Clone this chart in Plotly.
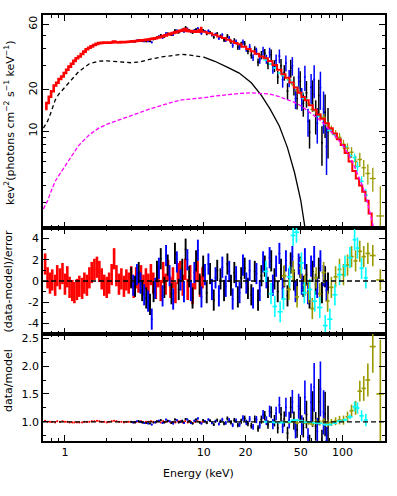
import math
import plotly.graph_objects as go

# ---------------- data ----------------
# model components (E^2 F units)
mod_E = [0.7, 0.75, 0.8, 0.85, 0.9, 1.0, 1.1, 1.25, 1.5, 1.75, 2.0, 2.5, 3.0, 3.5, 4.0,
         5.0, 6.0, 7.0, 8.0, 9.0, 10.0, 12.0, 15.0, 18.0, 22.0, 26.0, 30.0, 35.0, 40.0, 45.0,
         50.0, 55.0, 60.0, 66.0, 72.0, 80.0, 90.0, 100.0, 110.0, 120.0, 130.0, 140.0, 150.0, 160.0, 170.0]
comp_bb = [10.5, 11.8, 14.0, 16.8, 18.5, 21.0, 23.5, 27.0, 31.0, 32.4, 32.5, 31.8, 31.5, 32.0, 33.2,
           34.8, 35.8, 36.3, 35.8, 35.2, 34.6, 32.3, 29.0, 26.5, 22.5, 18.2, 14.5, 10.9, 7.6, 5.0,
           3.1, 1.8, 1.0, 0.5]
comp_pl = [2.7, 3.1, 3.7, 4.3, 4.7, 5.5, 6.4, 7.8, 9.4, 10.5, 11.2, 12.2, 13.0, 13.7, 14.4,
           15.5, 16.3, 16.9, 17.1, 17.3, 17.5, 18.0, 18.5, 18.8, 19.0, 18.9, 18.6, 17.8, 17.0, 16.2,
           15.3, 14.3, 13.4, 12.4, 11.5, 10.3, 9.0, 7.9, 6.8, 5.7, 4.7, 3.9, 3.1, 2.4, 1.85]
bb_dash_end = 10.0

# total model (red step curve)
tot_E = [8, 9, 10, 11, 12, 13, 14, 15, 16, 17, 18, 19.5, 21, 22.5, 24, 26, 28, 30, 32.5, 35,
         37.5, 40, 43, 46, 49, 52, 55, 59, 63, 67, 72, 77, 82, 88, 94, 100, 107, 114, 121, 128,
         135, 142, 150, 158, 166, 174]
tot_val = [53.8, 53.3, 53.0, 51.8, 50.5, 49.0, 47.7, 46.4, 45.1, 44.0, 43.0, 41.3, 39.7, 38.2, 36.7,
           35.0, 34.0, 32.5, 30.3, 28.0, 26.0, 24.5, 22.6, 20.8, 19.0, 17.7, 16.8, 15.4, 14.3, 13.2,
           12.3, 11.4, 10.5, 9.6, 8.7, 7.9, 6.9, 6.0, 5.1, 4.5, 4.0, 3.6, 3.1, 2.5, 1.95, 1.55]

# red (soft X-ray) data
red_E = [0.72, 0.75, 0.78, 0.81, 0.85, 0.88, 0.92, 0.96, 1.00, 1.04, 1.08, 1.13, 1.17, 1.22, 1.27,
         1.33, 1.38, 1.44, 1.50, 1.56, 1.63, 1.70, 1.77, 1.84, 1.92, 2.00, 2.08, 2.17, 2.26, 2.35,
         2.45, 2.55, 2.66, 2.77, 2.88, 3.00, 3.13, 3.26, 3.39, 3.53, 3.68, 3.83, 3.99, 4.16, 4.33,
         4.51, 4.70, 4.90, 5.10, 5.31, 5.53, 5.76, 6.00, 6.25, 6.51, 6.78, 7.06, 7.35, 7.66, 7.98,
         8.31, 8.66, 9.02, 9.40, 9.79]
red_flux = [14.5, 16.0, 17.8, 19.5, 21.5, 22.5, 24.0, 25.0, 26.5, 28.0, 29.5, 31.0, 32.5, 34.0, 35.0,
            36.5, 38.0, 39.5, 40.5, 41.5, 42.5, 43.3, 43.8, 44.0, 44.2, 44.3, 44.2, 44.3, 45.0, 44.5,
            44.4, 44.6, 44.5, 44.7, 44.8, 45.0, 45.1, 45.4, 45.6, 45.9, 46.0, 46.3, 46.6, 47.0, 47.3,
            47.6, 48.2, 48.6, 49.4, 49.9, 50.7, 51.2, 51.9, 52.5, 53.3, 54.0, 54.3, 55.5, 53.8, 53.6,
            53.3, 53.2, 53.3, 54.5, 56.5]
red_chi = [1.6, 0.3, -0.2, 0.1, -0.4, 0.5, 0.2, 0.7, -0.3, 0.4, -0.6, -0.9, -1.1, -0.8, -0.5,
           -0.7, -0.2, -0.4, 0.3, 0.8, 1.1, 1.3, 0.9, 0.2, -0.4, -0.6, -0.2, 0.6, 2.1, 0.5,
           -0.3, 0.2, -0.5, 0.1, -0.2, 0.4, -0.6, 0.3, -0.1, 0.5, -0.4, 0.2, -0.3, 0.6, -0.2,
           -0.7, 0.4, -0.9, 0.8, -0.3, 1.0, -0.6, 0.3, -1.1, 0.7, 0.9, -0.4, 1.1, -0.8, 0.5,
           -1.2, 0.2, 0.9, -0.5, 0.3]
red_ratio = [1.02, 1.00, 1.00, 1.00, 0.99, 1.01, 1.00, 1.01, 1.00, 1.00, 0.99, 0.99, 0.99, 0.99, 0.99,
             0.99, 1.00, 1.00, 1.00, 1.01, 1.01, 1.02, 1.01, 1.00, 1.00, 0.99, 1.00, 1.01, 1.02, 1.01,
             1.00, 1.00, 0.99, 1.00, 1.00, 1.00, 0.99, 1.00, 1.00, 1.01, 0.99, 1.00, 1.00, 1.01, 1.00,
             0.99, 1.01, 0.99, 1.01, 1.00, 1.01, 0.99, 1.00, 0.99, 1.01, 1.01, 0.99, 1.01, 0.99, 1.01,
             0.98, 1.00, 1.01, 0.99, 1.00]
red_relerr = 0.012

# NuSTAR-like, black (FPMA)
nuA_E = [3.0, 3.2, 3.4, 3.6, 3.85, 4.1, 4.35, 4.6, 4.9, 5.2, 5.5, 5.85, 6.2, 6.6, 7.0, 7.4, 7.85,
         8.3, 8.8, 9.35, 9.9, 10.5, 11.1, 11.8, 12.5, 13.2, 14.0, 14.8, 15.7, 16.6, 17.6, 18.6,
         19.7, 20.8, 22.0, 23.3, 24.6, 26.0, 27.5, 29.0, 30.6, 32.3, 34.1, 36.0, 38.0, 40.1, 42.3,
         44.6, 47.0, 49.5, 52.1, 54.9, 57.8, 60.8, 64.0, 67.4, 71.0, 74.8, 78.5]
nuA_flux = [45.2, 45.0, 46.1, 45.3, 45.2, 45.2, 46.7, 48.4, 50.2, 48.9,
            51.5, 50.2, 54.4, 52.4, 55.0, 57.1, 54.3, 52.1, 55.3, 52.9,
            54.5, 51.1, 52.5, 48.4, 51.4, 49.3, 46.1, 49.3, 44.9, 45.8,
            40.8, 42.9, 43.3, 38.3, 35.7, 39.3, 31.8, 35.9, 37.0, 30.7,
            36.1, 29.9, 24.8, 30.0, 26.8, 19.6, 28.8, 21.6, 17.3, 23.1,
            15.9, 19.0, 9.8, 18.6, 13.1, 18.2, 8.2, 13.7, 10.5]
nuA_chi = [0.3, -0.5, 0.8, -0.9, -1.6, -2.2, -1.0, 0.9, 2.1, -0.6,
           1.5, -1.2, 2.6, -0.8, 1.1, 3.0, 0.4, -1.6, 1.9, -0.3,
           1.4, -1.1, 0.7, -1.8, 1.0, 0.2, -0.9, 1.6, -0.4, 0.8,
           -1.5, 0.3, 1.2, -0.7, -1.3, 0.9, -1.8, 0.5, 1.4, -0.6,
           1.9, 0.2, -1.0, 1.1, 0.4, -1.4, 1.7, 0.1, -0.8, 1.3,
           -0.5, 0.6, -1.6, 0.9, -0.3, 1.2, -1.1, 0.4, -0.2]
nuA_ratio = [1.00, 0.99, 1.01, 0.99, 0.98, 0.97, 0.99, 1.01, 1.03, 0.99,
             1.02, 0.98, 1.04, 0.99, 1.02, 1.05, 1.01, 0.97, 1.04, 0.99,
             1.03, 0.98, 1.02, 0.95, 1.03, 1.01, 0.97, 1.06, 0.99, 1.03,
             0.94, 1.01, 1.06, 0.97, 0.93, 1.05, 0.88, 1.04, 1.11, 0.95,
             1.17, 1.02, 0.89, 1.13, 1.05, 0.80, 1.26, 1.02, 0.86, 1.23,
             0.90, 1.13, 0.62, 1.23, 0.92, 1.36, 0.65, 1.14, 0.92]
nuA_relerr = [0.015, 0.015, 0.015, 0.015, 0.015, 0.015, 0.015, 0.015, 0.016, 0.016,
              0.016, 0.016, 0.017, 0.017, 0.017, 0.018, 0.018, 0.018, 0.019, 0.019,
              0.020, 0.022, 0.024, 0.026, 0.028, 0.030, 0.032, 0.035, 0.037, 0.040,
              0.042, 0.045, 0.048, 0.050, 0.055, 0.060, 0.065, 0.070, 0.075, 0.080,
              0.090, 0.100, 0.110, 0.120, 0.130, 0.140, 0.150, 0.160, 0.170, 0.180,
              0.200, 0.220, 0.240, 0.260, 0.280, 0.300, 0.320, 0.350, 0.400]

# NuSTAR-like, blue (FPMB)
nuB_E = [3.1, 3.3, 3.5, 3.72, 3.97, 4.22, 4.47, 4.75, 5.05, 5.35, 5.67, 6.02, 6.4, 6.8, 7.2, 7.62,
         8.07, 8.55, 9.07, 9.62, 10.2, 10.8, 11.45, 12.15, 12.85, 13.6, 14.4, 15.25, 16.15, 17.1,
         18.1, 19.15, 20.25, 21.4, 22.65, 23.95, 25.3, 26.75, 28.25, 29.8, 31.45, 33.2, 35.05,
         37.0, 39.05, 41.2, 43.45, 45.8, 48.25, 50.8, 53.5, 56.35, 59.3, 62.4, 65.7, 69.2, 72.9, 76.6]
nuB_flux = [44.8, 45.8, 45.7, 45.2, 45.2, 44.4, 47.0, 49.1, 47.9, 51.7,
            51.1, 50.2, 54.2, 53.6, 53.2, 55.9, 53.0, 54.3, 56.2, 51.5,
            53.5, 53.9, 50.2, 50.8, 47.5, 50.2, 46.3, 47.7, 42.1, 44.7,
            40.9, 44.5, 39.9, 41.1, 34.4, 38.2, 33.2, 38.4, 33.5, 37.4,
            28.9, 32.8, 35.3, 23.7, 31.4, 24.4, 30.0, 17.3, 24.7, 17.3,
            24.8, 11.8, 20.9, 23.8, 11.4, 20.7, 14.5, 7.7]
nuB_chi = [-0.4, 0.6, -0.2, -1.3, -1.9, -3.6, -0.7, 1.2, -1.4, 2.4,
           0.5, -1.7, 1.8, 0.1, -1.0, 2.0, -0.9, 0.8, 2.9, -1.5,
           0.6, 1.6, -0.8, 0.3, -1.4, 1.3, -0.5, 0.9, -1.7, 0.4,
           -1.1, 1.5, -0.2, 1.0, -1.6, 0.7, -0.9, 1.8, 0.3, 2.2,
           -0.4, 1.4, 2.6, -0.7, 1.9, 0.2, 2.3, -1.0, 1.6, -0.3,
           2.1, -1.2, 1.4, 2.3, -0.6, 1.9, 0.5, -0.9]
nuB_ratio = [0.99, 1.01, 1.00, 0.98, 0.97, 0.95, 0.99, 1.02, 0.98, 1.04,
             1.01, 0.97, 1.03, 1.00, 0.98, 1.04, 0.98, 1.02, 1.06, 0.97,
             1.01, 1.04, 0.98, 1.01, 0.96, 1.04, 0.98, 1.03, 0.94, 1.02,
             0.95, 1.07, 0.99, 1.05, 0.91, 1.04, 0.94, 1.13, 1.02, 1.19,
             0.96, 1.15, 1.30, 0.91, 1.26, 1.03, 1.36, 0.84, 1.28, 0.94,
             1.44, 0.72, 1.35, 1.62, 0.83, 1.59, 1.17, 0.66]
nuB_relerr = [0.015, 0.015, 0.015, 0.015, 0.015, 0.015, 0.015, 0.016, 0.016, 0.016,
              0.016, 0.017, 0.017, 0.017, 0.018, 0.018, 0.018, 0.019, 0.019, 0.020,
              0.021, 0.023, 0.025, 0.027, 0.029, 0.031, 0.034, 0.036, 0.038, 0.041,
              0.043, 0.046, 0.050, 0.052, 0.057, 0.062, 0.067, 0.072, 0.077, 0.085,
              0.095, 0.105, 0.115, 0.125, 0.135, 0.145, 0.155, 0.165, 0.175, 0.190,
              0.210, 0.230, 0.250, 0.270, 0.290, 0.310, 0.340, 0.380]

# cyan hard X-ray data
cy_E = [28, 30.5, 32.5, 35.5, 37.5, 41.5, 44, 46.5, 50.5, 53, 58, 63, 68.5, 75, 81, 88, 95,
        104, 113, 122, 128, 137, 147]
cy_dE = [1.2, 1.2, 1.2, 1.5, 1.5, 1.8, 1.8, 2, 2, 2.2, 2.5, 2.5, 3, 3, 3.5, 3.5, 4, 4.5, 5, 4,
         4, 5, 5]
cy_flux = [33.0, 30.8, 28.8, 26.5, 25.4, 23.5, 22.2, 20.9, 18.7, 17.3, 15.6, 14.2, 12.8, 11.3,
           10.1, 9.4, 8.7, 7.7, 6.6, 6.4, 5.5, 4.3, 3.4]
cy_chi = [0.9, -1.2, -2.4, -2.9, -1.7, 0.4, 4.3, 4.6, 1.7, -1.1, -0.8, -1.9, -2.5, -4.2, -3.6,
          -1.3, 0.6, 1.4, 2.2, 3.9, 3.1, 1.2, 0.3]
cy_ratio = [1.00, 0.995, 0.988, 0.986, 0.99, 1.002, 1.03, 1.032, 1.014, 0.991, 0.993, 0.981,
            0.973, 0.95, 0.95, 0.978, 1.012, 1.035, 1.088, 1.273, 1.248, 1.108, 1.033]
cy_relerr = [0.004, 0.004, 0.005, 0.005, 0.006, 0.006, 0.007, 0.007, 0.008, 0.008, 0.009, 0.010,
             0.011, 0.012, 0.014, 0.017, 0.020, 0.025, 0.040, 0.070, 0.080, 0.090, 0.110]

# olive hard X-ray data
ol_E = [38, 41, 44, 47, 50, 53.5, 57, 60.5, 64.5, 68.5, 73, 78, 83, 89, 95, 101.5, 108.5, 116,
        124, 133, 142, 152, 165, 187]
ol_dE = [1.5, 1.5, 1.5, 1.5, 1.5, 2, 2, 2, 2, 2, 2.5, 2.5, 3, 3, 3, 3.5, 3.5, 4, 4, 5, 5, 6, 8, 12]
ol_flux = [25.5, 23.7, 21.8, 19.7, 18.8, 17.1, 15.8, 14.4, 14.0, 12.9, 12.6, 11.1, 10.3, 9.5,
           9.0, 8.0, 7.5, 7.0, 6.0, 6.2, 5.4, 4.9, 4.5, 2.4]
ol_chi = [0.5, -0.8, 0.9, -1.5, 1.2, -0.4, -1.1, -2.6, 0.3, -1.2, 0.8, -1.9, -0.6, 0.4, 1.1,
          0.6, 1.5, 2.3, 1.9, 2.8, 2.3, 2.6, 2.4, 0.1]
ol_ratio = [1.00, 0.99, 1.01, 0.98, 1.01, 0.99, 0.98, 0.96, 1.00, 0.98, 1.01, 0.97, 0.99, 1.01,
            1.03, 1.03, 1.09, 1.20, 1.25, 1.55, 1.60, 1.75, 2.35, 1.50]
ol_relerr = [0.02, 0.02, 0.025, 0.025, 0.03, 0.03, 0.035, 0.04, 0.045, 0.05, 0.055, 0.06, 0.065,
             0.07, 0.075, 0.08, 0.085, 0.09, 0.10, 0.12, 0.14, 0.17, 0.20, 0.65]

resid_ref = 0.0
ratio_ref = 1.0
chi_err = 1.0

x_ticks = [1, 10, 20, 50, 100]
x_minor = [0.8, 0.9, 2, 3, 4, 5, 6, 7, 8, 9, 30, 40, 60, 70, 80, 90, 200]
y1_ticks = [10, 20, 60]
y1_minor = [2, 3, 4, 5, 6, 7, 8, 9, 30, 40, 50]
y2_ticks = [-4, -2, 0, 2, 4]
y2_minor = [-3, -1, 1, 3]
y3_ticks = [1.0, 1.5, 2.0, 2.5]
y3_minor = [0.75, 1.25, 1.75, 2.25]

# ---------------- styling ----------------
RED, BLACK, BLUE, CYAN, OLIVE, MAG = "#ff0000", "#000000", "#0000ff", "#00ffff", "#9a9a00", "#ff00ff"
W, H = 397, 496
FONT = "DejaVu Sans"

fig = go.Figure()


def data_trace(xs, ys, yerr, color, xa, ya, xerr=None, thick=1.3):
    t = dict(x=xs, y=ys, mode="markers", xaxis=xa, yaxis=ya, showlegend=False,
             marker=dict(size=2, color=color),
             error_y=dict(type="data", array=yerr, color=color, thickness=thick, width=0))
    if xerr is not None:
        t["error_x"] = dict(type="data", array=xerr, color=color, thickness=thick, width=0)
    return go.Scatter(**t)


def mul(a, b):
    return [p * q for p, q in zip(a, b)]


# ---- top panel ----
bb_E = mod_E[:len(comp_bb)]
dash_E = [e for e in bb_E if e <= bb_dash_end]
dash_v = [v for e, v in zip(bb_E, comp_bb) if e <= bb_dash_end]
solid_E = [e for e in bb_E if e >= bb_dash_end]
solid_v = [v for e, v in zip(bb_E, comp_bb) if e >= bb_dash_end]
fig.add_trace(go.Scatter(x=dash_E, y=dash_v, mode="lines", xaxis="x", yaxis="y",
                         line=dict(color=BLACK, width=1.3, dash="4px,3px"), showlegend=False))
fig.add_trace(go.Scatter(x=solid_E, y=solid_v, mode="lines", xaxis="x", yaxis="y",
                         line=dict(color=BLACK, width=1.3), showlegend=False))
fig.add_trace(data_trace(nuA_E, nuA_flux, mul(nuA_flux, nuA_relerr), BLACK, "x", "y", thick=1.5))
fig.add_trace(data_trace(nuB_E, nuB_flux, mul(nuB_flux, nuB_relerr), BLUE, "x", "y", thick=1.5))
fig.add_trace(data_trace(ol_E, ol_flux, mul(ol_flux, ol_relerr), OLIVE, "x", "y", ol_dE))
fig.add_trace(data_trace(cy_E, cy_flux, mul(cy_flux, cy_relerr), CYAN, "x", "y", cy_dE))
fig.add_trace(go.Scatter(x=tot_E, y=tot_val, mode="lines", xaxis="x", yaxis="y",
                         line=dict(color=RED, width=2, shape="hvh"), showlegend=False))
fig.add_trace(go.Scatter(x=red_E, y=red_flux, mode="lines", xaxis="x", yaxis="y",
                         line=dict(color=RED, width=2.6, shape="hvh"), showlegend=False))
fig.add_trace(go.Scatter(x=mod_E, y=comp_pl, mode="lines", xaxis="x", yaxis="y",
                         line=dict(color=MAG, width=1.3, dash="4px,2px"), showlegend=False))

# ---- residual panel ----
for xs, ys, col, xe, th in [(red_E, red_chi, RED, None, 2.6), (nuA_E, nuA_chi, BLACK, None, 1.9),
                            (nuB_E, nuB_chi, BLUE, None, 1.9), (ol_E, ol_chi, OLIVE, ol_dE, 1.6),
                            (cy_E, cy_chi, CYAN, cy_dE, 1.6)]:
    fig.add_trace(data_trace(xs, ys, [chi_err] * len(xs), col, "x2", "y2", xe, thick=th))

# ---- ratio panel ----
for xs, ys, rel, col, xe in [(red_E, red_ratio, [red_relerr] * len(red_E), RED, None),
                             (nuA_E, nuA_ratio, nuA_relerr, BLACK, None),
                             (nuB_E, nuB_ratio, nuB_relerr, BLUE, None),
                             (ol_E, ol_ratio, ol_relerr, OLIVE, ol_dE),
                             (cy_E, cy_ratio, cy_relerr, CYAN, cy_dE)]:
    fig.add_trace(data_trace(xs, ys, mul(ys, rel), col, "x3", "y3", xe, thick=1.6))

# reference lines
fig.add_shape(type="line", xref="x2 domain", x0=0, x1=1, yref="y2", y0=resid_ref, y1=resid_ref,
              line=dict(color=BLACK, width=1.4, dash="5px,3px"))
fig.add_shape(type="line", xref="x3 domain", x0=0, x1=1, yref="y3", y0=ratio_ref, y1=ratio_ref,
              line=dict(color=BLACK, width=1.4, dash="5px,3px"))

# ---------------- axes ----------------
x_dom = [43 / W, 385 / W]
def ydom(top_px, bot_px):
    return [1 - bot_px / H, 1 - top_px / H]

xrange_ = [math.log10(0.695), math.log10(202)]
ax_common = dict(showline=True, linecolor=BLACK, linewidth=1.5, mirror="allticks",
                 ticks="inside", ticklen=6, tickwidth=1.2, tickcolor=BLACK,
                 showgrid=False, zeroline=False, automargin=False,
                 tickfont=dict(family=FONT, size=11, color=BLACK))

def xax(anchor, labels):
    return dict(ax_common, type="log", range=xrange_, domain=x_dom, anchor=anchor,
                tickmode="array", tickvals=x_ticks, ticktext=[str(v) for v in x_ticks],
                showticklabels=labels,
                minor=dict(tickmode="array", tickvals=x_minor, ticklen=3.5, ticks="inside",
                           tickcolor=BLACK, tickwidth=1.1))

fig.update_layout(
    width=W, height=H, margin=dict(l=0, r=0, t=0, b=0, autoexpand=False),
    paper_bgcolor="white", plot_bgcolor="white", showlegend=False,
    font=dict(family=FONT, size=11, color=BLACK),
    xaxis=xax("y", False),
    xaxis2=xax("y2", False),
    xaxis3=xax("y3", True),
    yaxis=dict(ax_common, type="log", domain=ydom(15, 228), anchor="x",
               range=[math.log10(1.96), math.log10(70.3)],
               tickmode="array", tickvals=y1_ticks, ticktext=[str(v) for v in y1_ticks],
               tickangle=-90,
               minor=dict(tickmode="array", tickvals=y1_minor, ticklen=3.5, ticks="inside",
                          tickcolor=BLACK, tickwidth=1.1)),
    yaxis2=dict(ax_common, domain=ydom(228, 334), anchor="x2", range=[-5, 5],
                tickmode="array", tickvals=y2_ticks, ticktext=[str(v) for v in y2_ticks],
                minor=dict(tickmode="array", tickvals=y2_minor, ticklen=3.5, ticks="inside",
                           tickcolor=BLACK, tickwidth=1.1)),
    yaxis3=dict(ax_common, domain=ydom(334, 441), anchor="x3", range=[0.656, 2.576],
                tickmode="array", tickvals=y3_ticks, ticktext=["%.1f" % v for v in y3_ticks],
                minor=dict(tickmode="array", tickvals=y3_minor, ticklen=3.5, ticks="inside",
                           tickcolor=BLACK, tickwidth=1.1)),
)

ann_font = dict(family=FONT, size=11, color=BLACK)
fig.add_annotation(text="kev<sup>2</sup>(photons cm<sup>−2</sup> s<sup>−1</sup> keV<sup>−1</sup>)",
                   xref="paper", yref="paper", x=9 / W, y=1 - 123 / H, textangle=-90,
                   showarrow=False, xanchor="center", yanchor="middle", font=ann_font)
fig.add_annotation(text="(data-model)/error", xref="paper", yref="paper", x=8 / W,
                   y=1 - 281.5 / H, textangle=-90, showarrow=False, xanchor="center",
                   yanchor="middle", font=ann_font)
fig.add_annotation(text="data/model", xref="paper", yref="paper", x=8 / W, y=1 - 381 / H,
                   textangle=-90, showarrow=False, xanchor="center", yanchor="middle",
                   font=ann_font)
fig.add_annotation(text="Energy (keV)", xref="paper", yref="paper", x=0.5, y=1 - 473 / H,
                   showarrow=False, xanchor="center", yanchor="middle", font=ann_font)

fig.write_html("out.html", config={"displayModeBar": False},
               post_script="document.body.style.margin='0';document.body.style.padding='0';"
                           "document.body.style.overflow='hidden';")
